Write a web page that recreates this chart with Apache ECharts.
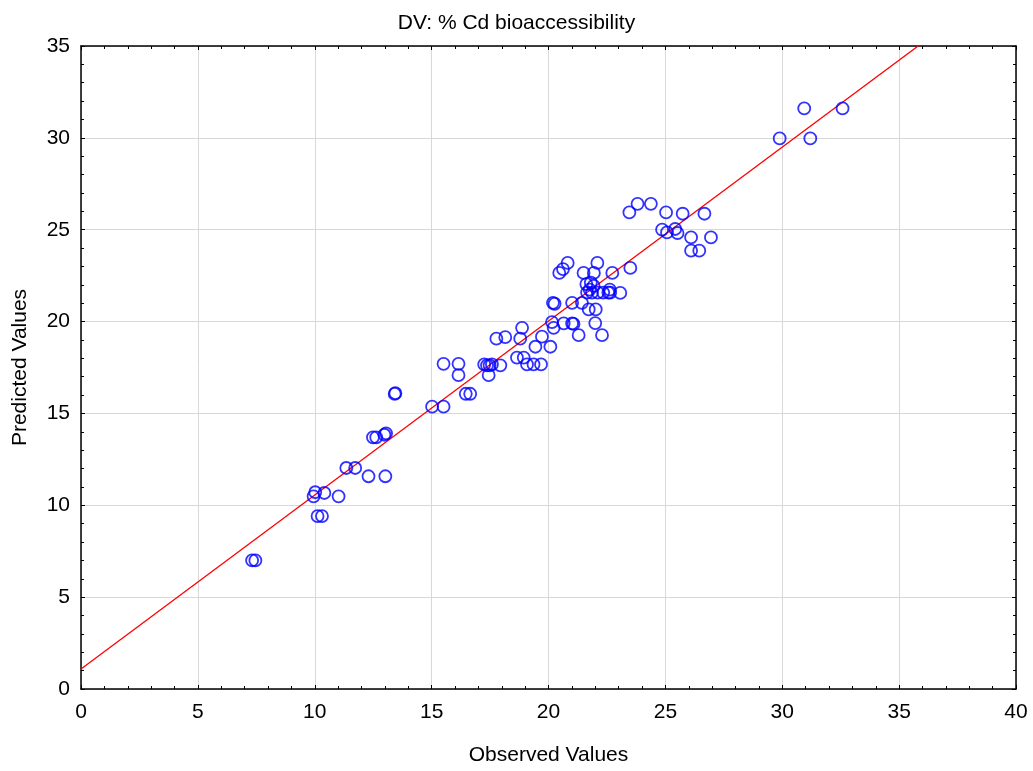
<!DOCTYPE html>
<html>
<head>
<meta charset="utf-8">
<script src="https://cdn.jsdelivr.net/npm/echarts@6/dist/echarts.min.js"></script>
<style>
html,body{margin:0;padding:0;background:#fff;}
#chart{width:1033px;height:771px;}
</style>
</head>
<body>
<div id="chart"></div>
<script>
var observed = [7.32,7.46,10.02,9.95,10.41,11.02,10.12,10.31,11.35,11.73,12.30,13.02,12.49,12.63,12.98,13.05,13.42,13.45,
  15.02,15.51,15.51,16.15,16.15,16.46,16.65,17.25,17.37,17.48,17.58,17.94,17.44,17.77,18.15,18.87,18.79,18.65,18.94,
  19.08,19.36,19.68,19.44,20.08,19.72,20.19,20.26,20.15,20.22,20.65,21.01,21.07,21.29,21.01,21.43,22.00,22.29,21.72,
  22.02,20.46,20.62,20.82,21.50,21.94,22.09,22.73,23.50,21.62,21.81,21.93,21.65,21.76,21.86,22.11,22.34,22.56,22.62,
  22.64,23.07,23.46,23.81,24.38,25.03,25.74,26.67,24.86,25.07,25.42,25.52,26.10,26.95,26.10,26.45,29.89,31.20,30.94,32.58];
var predicted = [7.00,7.00,10.71,10.49,10.67,10.49,9.41,9.41,12.03,12.03,11.58,11.58,13.70,13.70,13.84,13.91,16.06,16.10,
  15.37,15.37,17.70,17.70,17.08,16.07,16.07,17.67,17.62,17.62,17.67,17.62,17.08,19.07,19.15,19.66,19.07,18.04,18.04,
  17.67,17.67,17.67,18.63,18.63,19.18,21.02,20.97,19.97,19.66,19.90,19.90,19.87,19.26,21.02,21.02,19.92,19.26,20.66,
  20.66,22.65,22.86,23.19,22.65,22.65,23.19,22.65,22.92,22.04,22.12,21.94,21.58,21.74,21.58,21.58,21.58,21.58,21.74,
  21.58,21.56,25.94,26.41,26.41,25.94,25.87,25.87,25.00,24.85,25.04,24.82,24.58,24.58,23.86,23.86,29.97,29.97,31.60,31.60];
var xTicks = [0,5,10,15,20,25,30,35,40];
var yTicks = [0,5,10,15,20,25,30,35];
var fitIntercept = 1.085;
var fitSlope = 0.947;
var titleText = 'DV: % Cd bioaccessibility';
var xName = 'Observed Values';
var yName = 'Predicted Values';

var points = observed.map(function(v,i){return [v, predicted[i]];});
var xMin = xTicks[0], xMax = xTicks[xTicks.length-1];
var fitLine = [[xMin, fitIntercept + fitSlope*xMin],[xMax, fitIntercept + fitSlope*xMax]];

var FONT = '"Liberation Sans", Arial, sans-serif';
var FS = 21;
var chart = echarts.init(document.getElementById('chart'));
function axisBase(showLabel){
  return {
    axisLine:{show:true, onZero:false, lineStyle:{color:'#000', width:1.5}},
    axisTick:{show:true, inside:true, length:4, lineStyle:{color:'#000', width:1}},
    minorTick:{show:true, splitNumber:5, length:3, lineStyle:{color:'#000', width:1}},
    axisLabel:{show:showLabel, color:'#000', fontFamily:FONT, fontSize:FS},
    splitLine:{show:false}
  };
}
var xBottom = Object.assign(axisBase(true), {
  type:'value', position:'bottom', min:xMin, max:xMax, interval:5,
  name:xName, nameLocation:'middle', nameGap:56,
  nameTextStyle:{color:'#000', fontFamily:FONT, fontSize:FS},
  splitLine:{show:true, lineStyle:{color:'#d8d8d8', width:1}}
});
xBottom.axisLabel.margin = 13;
var xTop = Object.assign(axisBase(false), {type:'value', position:'top', min:xMin, max:xMax, interval:5});
var yLeft = Object.assign(axisBase(true), {
  type:'value', position:'left', min:yTicks[0], max:yTicks[yTicks.length-1], interval:5,
  name:yName, nameLocation:'middle', nameGap:50,
  nameTextStyle:{color:'#000', fontFamily:FONT, fontSize:FS},
  splitLine:{show:true, lineStyle:{color:'#d8d8d8', width:1}}
});
yLeft.axisLabel.margin = 11;
var yRight = Object.assign(axisBase(false), {type:'value', position:'right', min:yTicks[0], max:yTicks[yTicks.length-1], interval:5});

chart.setOption({
  animation:false,
  backgroundColor:'#fff',
  title:{text:titleText, left:'center', top:8,
    textStyle:{color:'#000', fontFamily:FONT, fontSize:FS, fontWeight:'normal'}},
  grid:{left:81, right:17, top:46, bottom:80, containLabel:false},
  xAxis:[xBottom, xTop],
  yAxis:[yLeft, yRight],
  series:[
    {type:'line', data:fitLine, xAxisIndex:0, yAxisIndex:0, showSymbol:false, symbol:'none',
      clip:true, lineStyle:{color:'#ff0000', width:1.3}, z:3},
    {type:'scatter', data:points, xAxisIndex:0, yAxisIndex:0, symbol:'circle', symbolSize:12,
      itemStyle:{color:'rgba(0,0,0,0)', borderColor:'#0000ff', borderWidth:1.8}, z:4}
  ]
});
</script>
</body>
</html>
